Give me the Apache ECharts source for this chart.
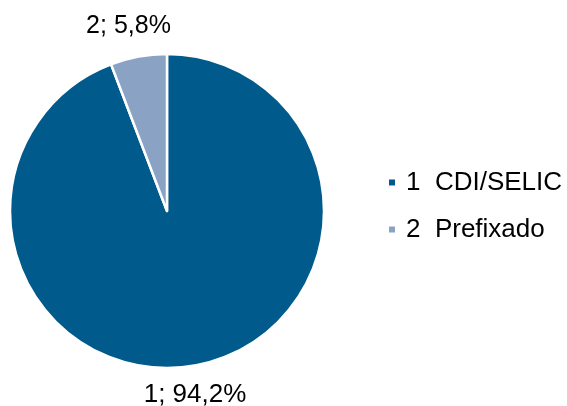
<!DOCTYPE html>
<html>
<head>
<meta charset="utf-8">
<style>
  html, body { margin: 0; padding: 0; background: #ffffff; }
  #chart { width: 567px; height: 406px; }
</style>
<script src="https://cdn.jsdelivr.net/npm/echarts@6/dist/echarts.min.js"></script>
</head>
<body>
<div id="chart"></div>
<script>
// Composition by index type
const categories = ['1  CDI/SELIC', '2  Prefixado'];
const codes = ['1', '2'];
const shares = [94.2, 5.8];
const colors = ['#005A8C', '#8AA2C4'];

const chart = echarts.init(document.getElementById('chart'), null, { renderer: 'canvas' });

// label anchor spots around the pie (pixels) and their font sizes
const labelSpots = [
  { x: 195, y: 395, size: 26 },
  { x: 128.5, y: 26, size: 25 }
];

chart.setOption({
  animation: false,
  color: colors,
  legend: {
    orient: 'vertical',
    left: 387,
    top: 169.5,
    padding: 0,
    itemWidth: 8,
    itemHeight: 8,
    itemGap: 21,
    icon: 'rect',
    textStyle: {
      fontFamily: 'Liberation Sans, Arial, sans-serif',
      fontSize: 26,
      lineHeight: 26,
      color: '#000000',
      padding: [0, 0, 0, 5]
    },
    data: categories
  },
  series: [{
    type: 'pie',
    center: [167, 211],
    radius: [0, 157],
    startAngle: 90,
    clockwise: true,
    itemStyle: { borderColor: '#ffffff', borderWidth: 2.5 },
    label: {
      show: true,
      position: 'outside',
      fontFamily: 'Liberation Sans, Arial, sans-serif',
      color: '#000000',
      formatter: p => codes[p.dataIndex] + '; ' + shares[p.dataIndex].toFixed(1).replace('.', ',') + '%'
    },
    labelLine: { show: false },
    labelLayout: p => ({ x: labelSpots[p.dataIndex].x, y: labelSpots[p.dataIndex].y, align: 'center', verticalAlign: 'middle', fontSize: labelSpots[p.dataIndex].size }),
    emphasis: { disabled: true },
    data: categories.map((name, i) => ({ name: name, value: shares[i] }))
  }]
});
</script>
</body>
</html>
